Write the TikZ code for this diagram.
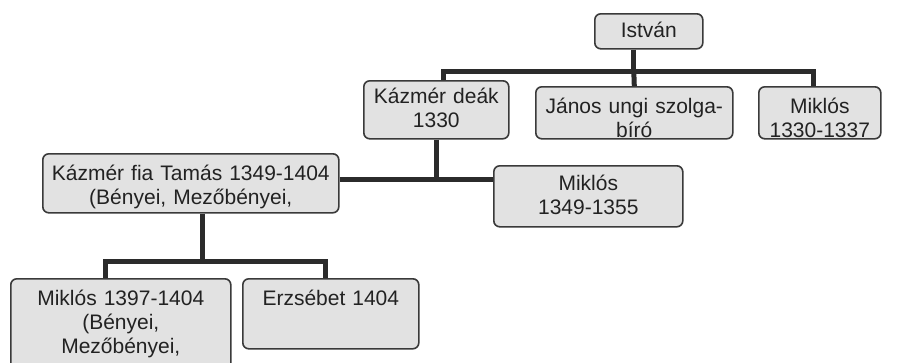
\documentclass[tikz,border=0pt]{standalone}
\usepackage{fontspec}
\setmainfont{Liberation Sans}
\definecolor{boxfill}{HTML}{E2E2E2}
\definecolor{boxline}{HTML}{3A3A3A}
\definecolor{connline}{HTML}{2B2B2B}
\definecolor{txt}{HTML}{222222}
\begin{document}
\begin{tikzpicture}[x=1pt,y=-1pt,
  famebox/.style={draw=boxline, line width=1.6pt, fill=boxfill, rounded corners=6pt,
    anchor=north west, align=center, inner xsep=3pt, inner ysep=0pt,
    text=txt, font=\fontsize{21}{24}\selectfont},
  conn/.style={draw=connline, line width=5pt}]
\useasboundingbox[fill=white] (0,0) rectangle (910,362);

\node[famebox, minimum width=108pt, text width=102pt, text height=24pt, text depth=11pt] (istvan) at (594,13) {István};
\node[famebox, minimum width=145pt, text width=139pt, text height=23pt, text depth=35pt] (kd) at (363,80) {Kázmér deák\\1330};
\node[famebox, minimum width=197pt, text width=191pt, text height=27pt, text depth=25pt] (janos) at (535,86) {János ungi szolga-\\bíró};
\node[famebox, minimum width=122pt, text width=116pt, text height=27pt, text depth=25pt] (mk) at (758,86) {Miklós\\1330-1337};
\node[famebox, minimum width=296pt, text width=290pt, text height=27pt, text depth=32pt] (tamas) at (42,153) {Kázmér fia Tamás 1349-1404\\(Bényei, Mezőbényei,};
\node[famebox, minimum width=189pt, text width=183pt, text height=25pt, text depth=36pt] (m49) at (493,165) {Miklós\\1349-1355};
\node[famebox, minimum width=220pt, text width=214pt, text height=27pt, text depth=73pt] (m97) at (10,278) {Miklós 1397-1404\\(Bényei,\\Mezőbényei,};
\node[famebox, minimum width=176pt, text width=170pt, text height=27pt, text depth=43pt] (erz) at (242,278) {Erzsébet 1404};

% István's children
\draw[conn] ([xshift=-15pt]istvan.south) -- ++(0,22) coordinate (bus1);
\draw[conn] ([xshift=7pt]kd.north) |- (bus1) -| ([xshift=-6pt]mk.north);
\draw[conn] (bus1) -- (janos.north);

% Kázmér deák's children
\draw[conn] (kd.south) -- ++(0,40) coordinate (bus2);
\draw[conn] (tamas.east |- bus2) -- (m49.west |- bus2);

% Tamás's children
\draw[conn] ([xshift=12pt]tamas.south) -- ++(0,48) coordinate (bus3);
\draw[conn] ([xshift=-15pt]m97.north) |- (bus3) -| ([xshift=-5pt]erz.north);
\end{tikzpicture}
\end{document}
